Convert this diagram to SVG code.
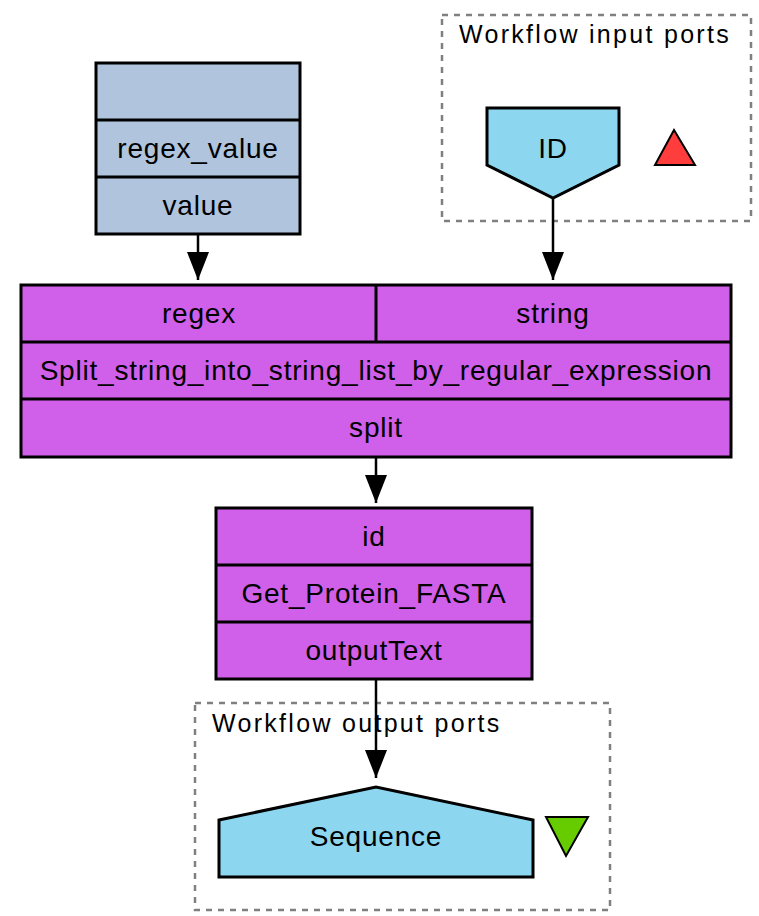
<svg xmlns="http://www.w3.org/2000/svg" width="759" height="916" viewBox="0 0 759 916">
<style>
.bg{fill:#ffffff}
.cluster{fill:none;stroke:#808080;stroke-width:2.5;stroke-dasharray:6,6}
.clabel{font-family:"Liberation Sans",Arial,sans-serif;font-size:25px;letter-spacing:2.3px;fill:#000}
.t{font-family:"Liberation Sans",Arial,sans-serif;font-size:28px;letter-spacing:0.8px;fill:#000;text-anchor:middle}
.box{stroke:#000;stroke-width:3}
.steel{fill:#b0c4de}
.purple{fill:#d05fea}
.port{fill:#8dd6f0;stroke:#000;stroke-width:3}
.div{stroke:#000;stroke-width:3}
.edge{fill:none;stroke:#000;stroke-width:2.5;marker-end:url(#arrow)}
</style>
<defs>
<marker id="arrow" markerUnits="userSpaceOnUse" markerWidth="28" markerHeight="22" viewBox="0 0 28 22" refX="28" refY="11" orient="auto">
<path d="M0,0 L28,11 L0,22 z" fill="#000"/>
</marker>
</defs>
<rect class="bg" x="0" y="0" width="759" height="916"/>

<g id="cluster_inputs">
<rect class="cluster" x="442" y="15" width="309" height="206"/>
<text class="clabel" x="459" y="43">Workflow input ports</text>
</g>
<g id="cluster_outputs">
<rect class="cluster" x="195" y="703" width="415" height="207"/>
<text class="clabel" x="212" y="732">Workflow output ports</text>
</g>

<g id="connectors">
<path class="edge" d="M198,234 L198,280"/>
<path class="edge" d="M553,198 L553,280"/>
<path class="edge" d="M376,457 L376,503"/>
<path class="edge" d="M376,679 L376,778"/>
</g>

<g id="node_regex_value">
<rect class="box steel" x="96" y="63" width="204" height="171"/>
<line class="div" x1="96" y1="120" x2="300" y2="120"/>
<line class="div" x1="96" y1="177" x2="300" y2="177"/>
<text class="t" x="198" y="158">regex_value</text>
<text class="t" x="198" y="215">value</text>
</g>

<g id="node_input_ID">
<polygon class="port" points="487,108 619,108 619,165 553,198 487,165"/>
<text class="t" x="553" y="158">ID</text>
</g>
<g id="inputs_marker">
<polygon points="655,165 674,130 695,165" fill="#ff3d3d" stroke="#000" stroke-width="2"/>
</g>

<g id="node_split">
<rect class="box purple" x="21" y="285" width="710" height="172"/>
<line class="div" x1="21" y1="342" x2="731" y2="342"/>
<line class="div" x1="21" y1="399" x2="731" y2="399"/>
<line class="div" x1="376" y1="285" x2="376" y2="342"/>
<text class="t" x="199" y="323">regex</text>
<text class="t" x="553" y="323">string</text>
<text class="t" x="376" y="380">Split_string_into_string_list_by_regular_expression</text>
<text class="t" x="376" y="437">split</text>
</g>

<g id="node_get_protein">
<rect class="box purple" x="216" y="508" width="316" height="171"/>
<line class="div" x1="216" y1="565" x2="532" y2="565"/>
<line class="div" x1="216" y1="622" x2="532" y2="622"/>
<text class="t" x="374" y="546">id</text>
<text class="t" x="374" y="603">Get_Protein_FASTA</text>
<text class="t" x="374" y="660">outputText</text>
</g>

<g id="node_output_Sequence">
<polygon class="port" points="219,820 376,787 533,820 533,877 219,877"/>
<text class="t" x="376" y="846">Sequence</text>
</g>
<g id="outputs_marker">
<polygon points="546,817 588,817 566,856" fill="#66cc00" stroke="#000" stroke-width="2"/>
</g>
</svg>
